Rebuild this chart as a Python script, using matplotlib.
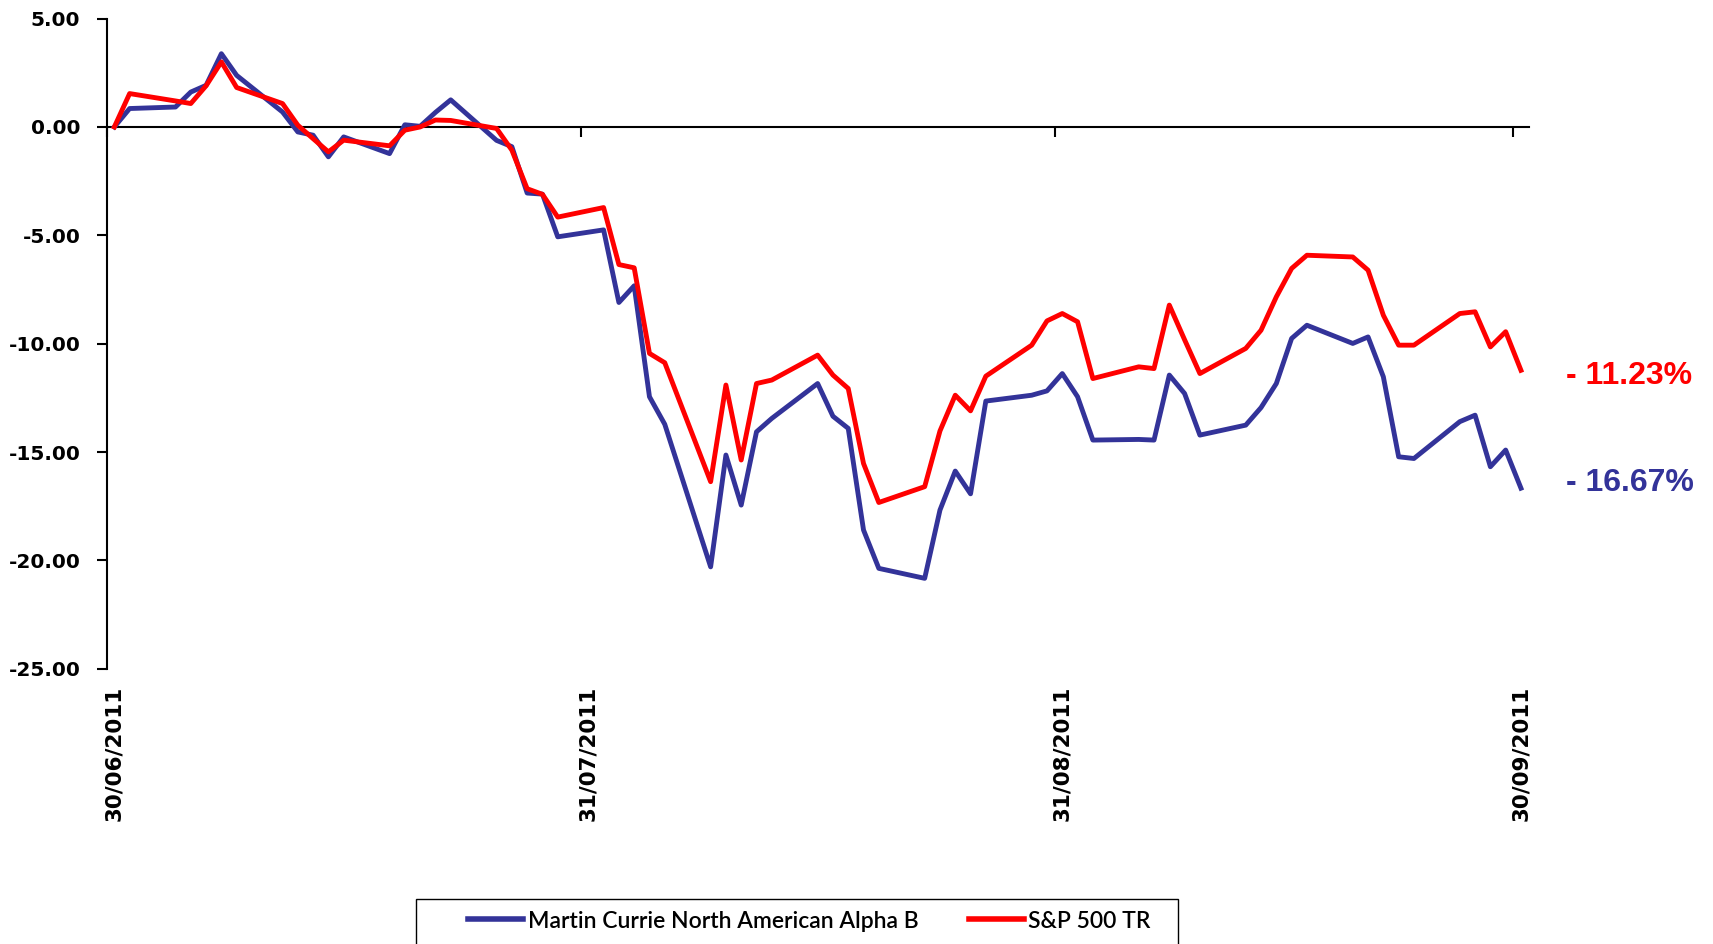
import matplotlib
matplotlib.use("Agg")
import matplotlib.pyplot as plt
import matplotlib.dates as mdates
from matplotlib.patches import Rectangle

plt.rcParams["axes.unicode_minus"] = False

BLUE = "#333399"
RED = "#ff0000"

# trading days, cumulative % return since 30/06/2011
DATES = [
    "2011-06-30", "2011-07-01", "2011-07-04", "2011-07-05", "2011-07-06", "2011-07-07", "2011-07-08",
    "2011-07-11", "2011-07-12", "2011-07-13", "2011-07-14", "2011-07-15",
    "2011-07-18", "2011-07-19", "2011-07-20", "2011-07-21", "2011-07-22",
    "2011-07-25", "2011-07-26", "2011-07-27", "2011-07-28", "2011-07-29",
    "2011-08-01", "2011-08-02", "2011-08-03", "2011-08-04", "2011-08-05",
    "2011-08-08", "2011-08-09", "2011-08-10", "2011-08-11", "2011-08-12",
    "2011-08-15", "2011-08-16", "2011-08-17", "2011-08-18", "2011-08-19",
    "2011-08-22", "2011-08-23", "2011-08-24", "2011-08-25", "2011-08-26",
    "2011-08-29", "2011-08-30", "2011-08-31", "2011-09-01", "2011-09-02",
    "2011-09-05", "2011-09-06", "2011-09-07", "2011-09-08", "2011-09-09",
    "2011-09-12", "2011-09-13", "2011-09-14", "2011-09-15", "2011-09-16",
    "2011-09-19", "2011-09-20", "2011-09-21", "2011-09-22", "2011-09-23",
    "2011-09-26", "2011-09-27", "2011-09-28", "2011-09-29", "2011-09-30",
]
FUND = [
    0.00, 0.85, 0.92, 1.61, 1.92, 3.38, 2.38,
    0.69, -0.23, -0.38, -1.38, -0.46,
    -1.23, 0.10, 0.03, 0.67, 1.25,
    -0.62, -0.91, -3.05, -3.10, -5.07,
    -4.75, -8.10, -7.33, -12.45, -13.72,
    -20.30, -15.14, -17.45, -14.07, -13.45,
    -11.84, -13.35, -13.91, -18.60, -20.37,
    -20.83, -17.68, -15.88, -16.93, -12.65,
    -12.38, -12.18, -11.38, -12.45, -14.45,
    -14.42, -14.45, -11.45, -12.30, -14.22,
    -13.76, -12.95, -11.84, -9.76, -9.15,
    -9.99, -9.69, -11.53, -15.22, -15.30,
    -13.60, -13.30, -15.68, -14.91, -16.67,
]
INDEX = [
    0.00, 1.54, 1.20, 1.08, 1.90, 3.00, 1.82,
    1.08, 0.08, -0.54, -1.15, -0.61,
    -0.87, -0.15, 0.00, 0.32, 0.30,
    -0.07, -1.07, -2.85, -3.11, -4.16,
    -3.72, -6.35, -6.50, -10.45, -10.88,
    -16.37, -11.91, -15.37, -11.84, -11.68,
    -10.53, -11.45, -12.07, -15.53, -17.33,
    -16.60, -14.03, -12.38, -13.10, -11.50,
    -10.07, -8.95, -8.61, -8.99, -11.61,
    -11.07, -11.15, -8.22, -9.82, -11.38,
    -10.22, -9.38, -7.84, -6.53, -5.92,
    -6.00, -6.61, -8.69, -10.07, -10.07,
    -8.61, -8.53, -10.15, -9.45, -11.23,
]
SERIES_NAMES = ["Martin Currie North American Alpha B", "S&P 500 TR"]
END_LABELS = ["- 16.67%", "- 11.23%"]

TICK_DATES = ["2011-06-30", "2011-07-31", "2011-08-31", "2011-09-30"]
TICK_LABELS = ["30/06/2011", "31/07/2011", "31/08/2011", "30/09/2011"]
Y_TICKS = [-25, -20, -15, -10, -5, 0, 5]

W, H = 1713, 944
fig = plt.figure(figsize=(W / 100, H / 100), dpi=100)
ax = fig.add_axes([106.7 / W, 1 - 668.7 / H, (1528.6 - 106.7) / W, (668.7 - 18.6) / H])

# points sit in the middle of their day slot, ticks on the day boundary
xs = mdates.datestr2num(DATES) + 0.5
ticks = mdates.datestr2num(TICK_DATES)

l1, = ax.plot(xs, FUND, color=BLUE, lw=3.5, solid_joinstyle="round", zorder=3)
l2, = ax.plot(xs, INDEX, color=RED, lw=3.5, solid_joinstyle="round", zorder=4)

ax.set_xlim(ticks[0], ticks[-1] + 1)
ax.set_ylim(-25, 5)
ax.set_yticks(Y_TICKS)
ax.set_yticklabels([f"{v:.2f}" for v in Y_TICKS])
for s in ("top", "right", "bottom"):
    ax.spines[s].set_visible(False)
ax.spines["left"].set_linewidth(1.5)
ax.tick_params(axis="y", direction="out", length=7, width=1.5, pad=12,
               labelsize=14.5)
for t in ax.get_yticklabels():
    t.set_fontweight("bold")

ax.set_xticks(ticks + 0.5)
ax.set_xticklabels(TICK_LABELS, rotation=90, fontsize=15.5, fontweight="bold",
                   ha="center", va="top")
ax.tick_params(axis="x", length=0, pad=12)

# zero line with the month ticks (hanging below it)
sec = ax.secondary_xaxis(25 / 30)
sec.set_xticks(ticks)
sec.set_xticklabels([""] * len(ticks))
sec.tick_params(axis="x", direction="in", length=7, width=1.5,
                labelbottom=False, labeltop=False)
for sp in sec.spines.values():
    sp.set_linewidth(1.5)

ax.annotate(END_LABELS[0], xy=(xs[-1], FUND[-1]), xytext=(45, 5),
            textcoords="offset pixels", ha="left", va="center", color=BLUE,
            fontsize=23, fontweight="bold", family=["Liberation Sans", "DejaVu Sans"])
ax.annotate(END_LABELS[1], xy=(xs[-1], INDEX[-1]), xytext=(45, -6),
            textcoords="offset pixels", ha="left", va="center", color=RED,
            fontsize=23, fontweight="bold", family=["Liberation Sans", "DejaVu Sans"])

fig.patches.append(Rectangle((416 / W, -0.05), (1178 - 416) / W, 0.05 + 1 - 899 / H,
                             transform=fig.transFigure, fill=False,
                             edgecolor="black", lw=1.0))
leg = fig.legend([l1, l2], SERIES_NAMES, ncol=2, loc="center left",
                 bbox_to_anchor=(468 / W, 1 - 921 / H), frameon=False,
                 borderpad=0, borderaxespad=0, handlelength=2.4, handletextpad=0.2,
                 columnspacing=2.2,
                 prop={"family": ["Lato", "DejaVu Sans"], "size": 16.5, "weight": "semibold"})
for h in leg.legend_handles:
    h.set_linewidth(4)

fig.savefig("out.png", dpi=100, facecolor="white")
